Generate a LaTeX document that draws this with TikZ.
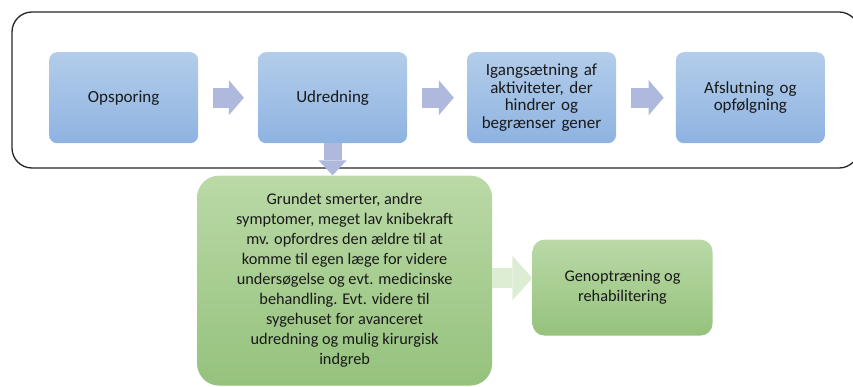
\documentclass[tikz,border=0pt]{standalone}
\usepackage{fontspec}
\setmainfont{Carlito}
\usetikzlibrary{arrows.meta, positioning}

\definecolor{bluetop}{HTML}{B3CDEA}
\definecolor{bluebot}{HTML}{8EB3E1}
\definecolor{greentop}{HTML}{BAD9A6}
\definecolor{greenbot}{HTML}{95C27D}
\definecolor{arrowblue}{HTML}{AFB9DE}
\definecolor{arrowgreen}{HTML}{DDEDD4}

\begin{document}
\begin{tikzpicture}[
    x=1pt, y=-1pt,
    node distance=59.5pt,
    every node/.style={font=\fontsize{17}{17.7}\selectfont, text=black!90},
    stepnode/.style={
        rectangle,
        rounded corners=8pt,
        top color=bluetop,
        bottom color=bluebot,
        minimum width=149pt,
        minimum height=91pt,
        text width=145pt,
        inner sep=0pt,
        align=center
    },
    greennode/.style={
        rectangle,
        rounded corners=22pt,
        top color=greentop,
        bottom color=greenbot,
        inner sep=0pt,
        align=center,
        font=\fontsize{16.3}{20}\selectfont
    },
    flowarrow/.style={
        draw=arrowblue,
        line width=20pt,
        -{Triangle[width=35pt, length=15pt, line width=0pt]}
    },
    frame/.style={
        draw=black!85,
        line width=1.3pt,
        rounded corners=20pt
    }
]
\useasboundingbox (0,0) rectangle (853,387);

% outer frame round the main steps
\draw[frame] (12,12) rectangle (859,168);

\node[stepnode, anchor=north west] (ops) at (49,52) {Opsporing};
\node[stepnode, right=of ops] (udr) {Udredning};
\node[stepnode, right=of udr] (igang)
    {Igangsætning af\\aktiviteter, der\\hindrer og\\begrænser gener};
\node[stepnode, right=of igang] (afsl) {Afslutning og\\opfølgning};

\node[greennode, minimum width=295pt, minimum height=210pt,
    below=32pt of udr, xshift=12pt] (behand)
    {Grundet smerter, andre\\symptomer, meget lav knibekraft\\
     mv. opfordres den ældre til at\\komme til egen læge for videre\\
     undersøgelse og evt. medicinske\\behandling. Evt. videre til\\
     sygehuset for avanceret\\udredning og mulig kirurgisk\\indgreb};
\node[greennode, rounded corners=12pt, minimum width=180pt, minimum height=96pt,
    right=40pt of behand, yshift=-7pt] (geno)
    {Genoptræning og\\rehabilitering};

\draw[flowarrow, shorten <=15pt, shorten >=14pt] (ops) -- (udr);
\draw[flowarrow, shorten <=15pt, shorten >=13pt] (udr) -- (igang);
\draw[flowarrow, shorten <=15pt, shorten >=12pt] (igang) -- (afsl);
\draw[flowarrow, line width=18pt,
    -{Triangle[width=28pt, length=15pt, line width=0pt]}]
    (udr.south) -- (udr.south |- behand.north);
\draw[flowarrow, draw=arrowgreen,
    -{Triangle[width=45pt, length=20pt, line width=0pt]}]
    ([yshift=2.5pt]behand.east) -- ([yshift=2.5pt]behand.east -| geno.west);

\end{tikzpicture}
\end{document}
